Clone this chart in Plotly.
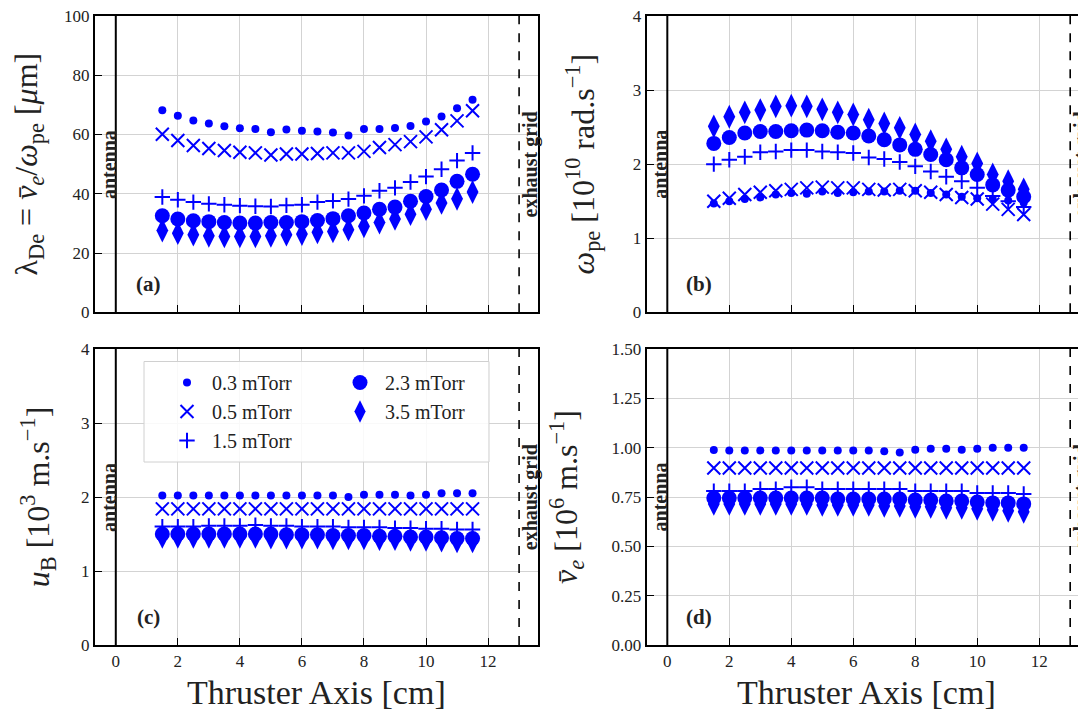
import plotly.graph_objects as go

# ---------------- data ----------------
x_cm = [1.5, 2.0, 2.5, 3.0, 3.5, 4.0, 4.5, 5.0, 5.5, 6.0, 6.5, 7.0, 7.5, 8.0, 8.5, 9.0, 9.5, 10.0, 10.5, 11.0, 11.5]
pressures = ["0.3 mTorr", "0.5 mTorr", "1.5 mTorr", "2.3 mTorr", "3.5 mTorr"]

# (a) Debye length [um]
lam_03 = [68.2, 66.3, 64.7, 63.7, 62.8, 62.1, 61.9, 60.8, 61.7, 61.3, 61.0, 60.7, 59.7, 61.9, 61.9, 62.2, 62.9, 64.4, 66.1, 68.9, 71.7]
lam_05 = [60.1, 58.0, 56.3, 55.3, 54.6, 54.0, 53.8, 53.1, 53.4, 53.4, 53.6, 53.8, 53.8, 54.3, 55.6, 56.6, 57.6, 59.2, 61.6, 64.6, 68.0]
lam_15 = [38.9, 38.0, 37.2, 36.6, 36.3, 36.0, 35.8, 35.7, 36.1, 36.3, 37.2, 37.6, 38.2, 39.3, 41.0, 42.0, 44.0, 45.8, 48.3, 51.2, 53.8]
lam_23 = [32.6, 31.5, 30.9, 30.6, 30.3, 30.1, 30.1, 30.3, 30.3, 30.6, 31.0, 31.6, 32.6, 33.5, 34.8, 35.5, 37.5, 39.1, 41.3, 44.2, 46.6]
lam_35 = [27.6, 26.7, 26.2, 25.8, 25.6, 25.6, 25.6, 25.8, 26.2, 26.4, 27.0, 27.3, 27.9, 29.0, 30.3, 31.5, 33.1, 34.8, 36.9, 38.3, 40.6]

# (b) plasma frequency [1e10 rad/s]
wpe_03 = [1.47, 1.50, 1.53, 1.55, 1.59, 1.61, 1.60, 1.63, 1.61, 1.62, 1.63, 1.63, 1.64, 1.64, 1.61, 1.59, 1.56, 1.54, 1.53, 1.51, 1.48]
wpe_05 = [1.50, 1.54, 1.59, 1.62, 1.64, 1.66, 1.68, 1.69, 1.68, 1.68, 1.66, 1.65, 1.66, 1.64, 1.62, 1.59, 1.55, 1.53, 1.46, 1.39, 1.32]
wpe_15 = [2.00, 2.06, 2.10, 2.16, 2.17, 2.19, 2.19, 2.17, 2.16, 2.15, 2.09, 2.07, 2.03, 1.97, 1.90, 1.83, 1.77, 1.68, 1.57, 1.50, 1.42]
wpe_23 = [2.28, 2.36, 2.42, 2.44, 2.44, 2.45, 2.46, 2.45, 2.43, 2.42, 2.38, 2.33, 2.26, 2.20, 2.13, 2.06, 1.95, 1.86, 1.72, 1.65, 1.56]
wpe_35 = [2.51, 2.64, 2.70, 2.73, 2.78, 2.79, 2.78, 2.74, 2.70, 2.67, 2.60, 2.55, 2.49, 2.40, 2.31, 2.20, 2.10, 2.01, 1.86, 1.77, 1.66]

# (c) Bohm speed [1e3 m/s]
ub_03 = [2.02, 2.02, 2.02, 2.02, 2.02, 2.02, 2.02, 2.02, 2.02, 2.02, 2.02, 2.02, 2.00, 2.03, 2.03, 2.03, 2.02, 2.03, 2.05, 2.05, 2.05]
ub_05 = [1.84, 1.84, 1.84, 1.84, 1.84, 1.84, 1.84, 1.84, 1.84, 1.84, 1.84, 1.84, 1.84, 1.84, 1.84, 1.84, 1.84, 1.84, 1.84, 1.84, 1.84]
ub_15 = [1.60, 1.60, 1.60, 1.61, 1.61, 1.61, 1.62, 1.61, 1.61, 1.60, 1.60, 1.60, 1.59, 1.59, 1.59, 1.58, 1.58, 1.57, 1.57, 1.56, 1.56]
ub_23 = [1.50, 1.50, 1.50, 1.50, 1.50, 1.50, 1.50, 1.50, 1.49, 1.49, 1.49, 1.48, 1.48, 1.48, 1.47, 1.47, 1.46, 1.46, 1.45, 1.44, 1.44]
ub_35 = [1.46, 1.46, 1.46, 1.46, 1.46, 1.46, 1.46, 1.45, 1.45, 1.45, 1.45, 1.44, 1.44, 1.44, 1.43, 1.43, 1.42, 1.42, 1.41, 1.40, 1.40]

# (d) mean electron speed [1e6 m/s]
ve_03 = [0.988, 0.986, 0.986, 0.986, 0.986, 0.986, 0.986, 0.986, 0.986, 0.986, 0.986, 0.982, 0.976, 0.990, 0.994, 0.994, 0.990, 0.995, 1.000, 1.000, 1.000]
ve_05 = [0.897, 0.897, 0.897, 0.897, 0.897, 0.897, 0.897, 0.897, 0.897, 0.897, 0.897, 0.897, 0.897, 0.897, 0.897, 0.897, 0.897, 0.897, 0.897, 0.897, 0.897]
ve_15 = [0.780, 0.780, 0.780, 0.790, 0.790, 0.800, 0.800, 0.790, 0.790, 0.790, 0.790, 0.790, 0.790, 0.780, 0.780, 0.780, 0.780, 0.770, 0.770, 0.770, 0.765]
ve_23 = [0.745, 0.745, 0.745, 0.745, 0.745, 0.745, 0.745, 0.745, 0.740, 0.740, 0.740, 0.740, 0.740, 0.735, 0.735, 0.730, 0.730, 0.725, 0.720, 0.720, 0.715]
ve_35 = [0.715, 0.715, 0.715, 0.715, 0.715, 0.715, 0.715, 0.710, 0.710, 0.710, 0.710, 0.705, 0.705, 0.700, 0.700, 0.695, 0.695, 0.690, 0.685, 0.680, 0.675]

panel_series = [
    [lam_03, lam_05, lam_15, lam_23, lam_35],
    [wpe_03, wpe_05, wpe_15, wpe_23, wpe_35],
    [ub_03, ub_05, ub_15, ub_23, ub_35],
    [ve_03, ve_05, ve_15, ve_23, ve_35],
]
panel_labels = ["(a)", "(b)", "(c)", "(d)"]
y_titles = [
    "λ<sub>De</sub> = <i>v̄<sub>e</sub></i>/<i>ω</i><sub>pe</sub> [<i>μ</i>m]",
    "<i>ω</i><sub>pe</sub> [10<sup>10</sup> rad.s<sup>−1</sup>]",
    "<i>u</i><sub>B</sub> [10<sup>3</sup> m.s<sup>−1</sup>]",
    "<i>v̄<sub>e</sub></i> [10<sup>6</sup> m.s<sup>−1</sup>]",
]
y_ranges = [[0, 100], [0, 4], [0, 4], [0, 1.5]]
y_dticks = [20, 1, 1, 0.25]
y_formats = ["d", "d", "d", ".2f"]

# ---------------- style ----------------
BLUE = "#0000ff"
FONT = "Liberation Serif"
marker_styles = [
    dict(symbol="circle", size=8, color=BLUE),
    dict(symbol="x-thin", size=13, color=BLUE, line=dict(color=BLUE, width=2)),
    dict(symbol="cross-thin", size=11, color=BLUE, line=dict(color=BLUE, width=2)),
    dict(symbol="circle", size=15, color=BLUE),
    dict(symbol="diamond-tall", size=17, color=BLUE),
]
legend_for = ["legend", "legend", "legend", "legend2", "legend2"]
title_standoff = [23, 29, 22, 24]

# page has an 8px body margin; coordinates below are page pixels
OFF = 8
W, H = 1086 - OFF, 720 - OFF
ML, MR, MT, MB = 95 - OFF, 0, 16 - OFF, 75
PW, PH = W - ML - MR, H - MT - MB

def px_x(p):
    return (p - OFF - ML) / PW

def px_y(p):
    return 1 - (p - OFF - MT) / PH

x_domains = [[0, px_x(537.7)], [px_x(646.7), 1.0]]
y_domains = [[px_y(312.3), 1.0], [0.0, px_y(349)]]
x_ranges = [[-0.67, 13.6], [-0.665, 13.51]]

fig = go.Figure()

for i in range(4):
    row, col = divmod(i, 2)
    suffix = "" if i == 0 else str(i + 1)
    xa, ya = "x" + suffix, "y" + suffix
    for k, series in enumerate(panel_series[i]):
        fig.add_trace(go.Scatter(
            x=x_cm, y=series, mode="markers", marker=marker_styles[k],
            name=pressures[k], xaxis=xa, yaxis=ya,
            showlegend=(i == 0), legend=legend_for[k],
        ))
    fig.update_layout(**{
        "xaxis" + suffix: dict(
            domain=x_domains[col], range=x_ranges[col], anchor=ya, automargin=False,
            tickvals=[0, 2, 4, 6, 8, 10, 12], ticks="inside", ticklen=7, tickwidth=1,
            tickcolor="black", showgrid=True, gridcolor="#d3d3d3", gridwidth=1,
            showline=True, linecolor="black", linewidth=2, mirror=True,
            zeroline=False, showticklabels=(row == 1), ticklabeloverflow="allow",
            tickfont=dict(family=FONT, size=17, color="#222"),
            title=dict(text="Thruster Axis [cm]" if row == 1 else "",
                       font=dict(family=FONT, size=34, color="#222"), standoff=10),
        ),
        "yaxis" + suffix: dict(
            domain=y_domains[row], range=y_ranges[i], anchor=xa, automargin=False,
            dtick=y_dticks[i], tick0=0, tickformat=y_formats[i],
            ticks="inside", ticklen=7, tickwidth=1, tickcolor="black",
            showgrid=True, gridcolor="#d3d3d3", gridwidth=1,
            showline=True, linecolor="black", linewidth=2, mirror=(col == 0),
            zeroline=False, ticklabeloverflow="allow",
            tickfont=dict(family=FONT, size=17, color="#222"),
            title=dict(text=y_titles[i], font=dict(family=FONT, size=32, color="#222"),
                       standoff=title_standoff[i]),
        ),
    })
    xref_dom = xa + " domain"
    yref_dom = ya + " domain"
    # antenna and exhaust grid lines
    fig.add_shape(type="line", xref=xa, yref=yref_dom, x0=0, x1=0, y0=0, y1=1,
                  line=dict(color="black", width=2))
    fig.add_shape(type="line", xref=xa, yref=yref_dom, x0=13, x1=13, y0=0, y1=1,
                  line=dict(color="black", width=1.6, dash="dash"))
    fig.add_annotation(x=-0.22, y=0.5, xref=xa, yref=yref_dom, text="<b>antenna</b>",
                       textangle=-90, showarrow=False, xanchor="center", yanchor="middle",
                       font=dict(family=FONT, size=20, color="#222"))
    fig.add_annotation(x=13.36, y=0.5, xref=xa, yref=yref_dom, text="<b>exhaust grid</b>",
                       textangle=-90, showarrow=False, xanchor="center", yanchor="middle",
                       font=dict(family=FONT, size=20, color="#222"))
    fig.add_annotation(x=0.12, y=0.095, xref=xref_dom, yref=yref_dom,
                       text="<b>" + panel_labels[i] + "</b>", showarrow=False,
                       xanchor="center", yanchor="middle",
                       font=dict(family=FONT, size=21, color="#222"))

# legend frame (panel c)
fig.add_shape(type="rect", xref="paper", yref="paper",
              x0=px_x(144), x1=px_x(489), y0=px_y(462), y1=px_y(361.5),
              fillcolor="rgba(255,255,255,0.85)", line=dict(color="#d0d0d0", width=1),
              layer="above")

legend_common = dict(bgcolor="rgba(0,0,0,0)", borderwidth=0, orientation="v",
                     font=dict(family=FONT, size=20, color="#222"),
                     itemsizing="trace", tracegroupgap=0,
                     xanchor="left", yanchor="top", itemwidth=40)

fig.update_layout(
    width=W, height=H,
    margin=dict(l=ML, r=MR, t=MT, b=MB),
    paper_bgcolor="white", plot_bgcolor="white",
    font=dict(family=FONT, color="#222"),
    legend=dict(x=px_x(162), y=px_y(363), **legend_common),
    legend2=dict(x=px_x(335), y=px_y(363), **legend_common),
)

fig.write_html("out.html")
